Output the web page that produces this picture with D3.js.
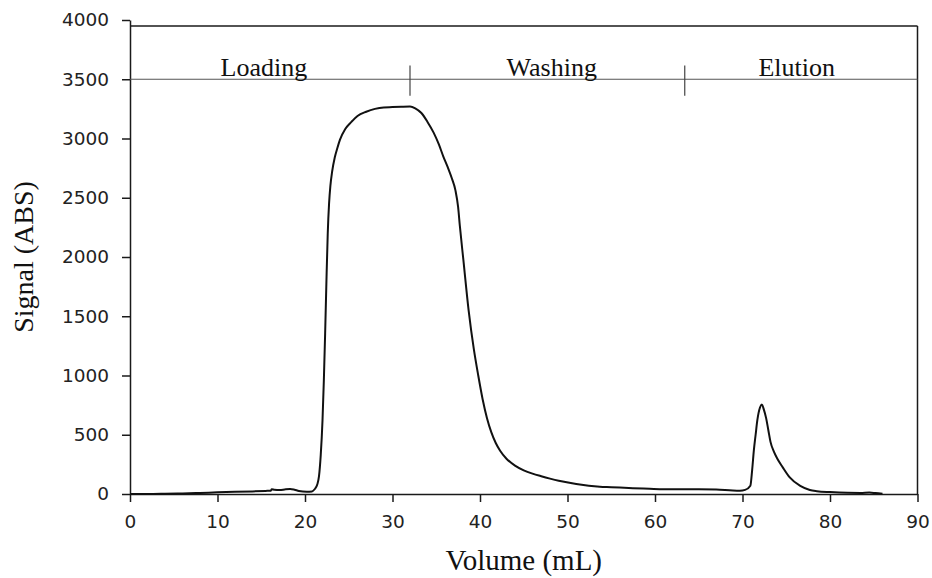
<!DOCTYPE html>
<html>
<head>
<meta charset="utf-8">
<script src="https://cdn.jsdelivr.net/npm/d3@7"></script>
<style>
  html, body { margin: 0; padding: 0; background: #fff; }
  svg { display: block; }
</style>
</head>
<body>
<svg id="chart"></svg>
<script>
// Chromatogram trace: volume (mL) and signal (ABS)
const volume = [0, 2, 4, 6, 8, 10, 12, 14, 15.5, 16.1, 16.2, 16.5, 17.1, 17.8, 18.3, 18.8, 19.3, 20.2, 20.8,
  21.1, 21.4, 21.6, 21.8, 22.0, 22.15, 22.3, 22.45, 22.6, 22.75, 22.9, 23.1, 23.4, 23.7, 24.0, 24.6, 25.3, 26,
  27, 28, 29, 30, 31, 32, 32.6, 33.3, 34, 34.7, 35.3, 35.8, 36.3, 36.8, 37.2, 37.5, 37.7, 38.1, 38.7, 39.3,
  39.8, 40.3, 40.8, 41.3, 41.8, 42.3, 43, 44, 45, 46, 47, 48, 49, 51, 53.7, 55, 57, 59.4, 62, 65, 67, 68.5, 69.7, 70.3,
  70.9, 71.1, 71.3, 71.5, 71.7, 72.0, 72.2, 72.45, 72.7, 72.95, 73.2, 73.6, 74.0, 74.6, 75.4, 76.6, 77.7, 78.5,
  80, 82, 83.5, 84.5, 85.2, 86];
const signal = [0, 0, 2, 5, 9, 14, 18, 22, 26, 28, 40, 36, 33, 40, 42, 36, 26, 20, 22,
  40, 80, 150, 330, 620, 950, 1350, 1800, 2200, 2450, 2600, 2720, 2840, 2920, 2990, 3080, 3140, 3190,
  3226, 3250, 3262, 3265, 3268, 3270, 3255, 3215, 3140, 3050, 2950, 2850, 2760, 2660, 2560, 2420, 2260, 1975, 1550, 1220,
  1000, 800, 640, 520, 430, 365, 300, 240, 200, 172, 150, 130, 112, 85, 62, 58, 50, 44, 40, 40, 37, 32, 28, 35,
  70, 200, 370, 500, 625, 730, 755, 710, 640, 540, 440, 355, 295, 225, 140, 68, 34, 24,
  16, 10, 9, 12, 8, 2];

// Process phases across the top
const phaseNames = ["Loading", "Washing", "Elution"];
const phaseLabelX = [15.3, 48.2, 76.2];
const phaseBounds = [32, 63.4];
const phaseLevel = 3500;

const xTicks = [0, 10, 20, 30, 40, 50, 60, 70, 80, 90];
const yTicks = [0, 500, 1000, 1500, 2000, 2500, 3000, 3500, 4000];

const width = 932;
const height = 578;
const margin = { top: 20, right: 14.5, bottom: 84, left: 130 };

const svg = d3.select("#chart")
    .attr("width", width)
    .attr("height", height);

const xScale = d3.scaleLinear().domain([0, 90]).range([margin.left, width - margin.right]);
const yScale = d3.scaleLinear().domain([0, 4000]).range([height - margin.bottom, margin.top]);

const ink = "#1a1a1a";
const serif = "'Liberation Serif', 'Times New Roman', serif";
const sans = "'DejaVu Sans', sans-serif";

// Frame (top and right)
svg.append("line")
    .attr("x1", xScale(0)).attr("x2", xScale(90))
    .attr("y1", yScale(3950)).attr("y2", yScale(3950))
    .attr("stroke", ink).attr("stroke-width", 1.5);
svg.append("line")
    .attr("x1", xScale(90)).attr("x2", xScale(90))
    .attr("y1", yScale(3950)).attr("y2", yScale(0))
    .attr("stroke", ink).attr("stroke-width", 1.5);

// Axes
const xAxis = svg.append("g")
    .attr("transform", `translate(0,${yScale(0)})`)
    .call(d3.axisBottom(xScale).tickValues(xTicks).tickFormat(d3.format("d"))
        .tickSize(8).tickPadding(13).tickSizeOuter(0));

const yAxis = svg.append("g")
    .attr("transform", `translate(${xScale(0)},0)`)
    .call(d3.axisLeft(yScale).tickValues(yTicks).tickFormat(d3.format("d"))
        .tickSize(8).tickPadding(13).tickSizeOuter(0));

[xAxis, yAxis].forEach(ax => {
    ax.select(".domain").attr("stroke", ink).attr("stroke-width", 1.5);
    ax.selectAll(".tick line").attr("stroke", ink).attr("stroke-width", 1.5);
    ax.selectAll(".tick text")
        .attr("fill", "#222")
        .style("font-family", sans)
        .style("font-size", "18.5px");
});

// Phase line and dividers
svg.append("line")
    .attr("x1", xScale(0)).attr("x2", xScale(90))
    .attr("y1", yScale(phaseLevel)).attr("y2", yScale(phaseLevel))
    .attr("stroke", "#555").attr("stroke-width", 1.2);

svg.selectAll(".phase-divider")
    .data(phaseBounds)
    .enter()
    .append("line")
    .attr("class", "phase-divider")
    .attr("x1", d => xScale(d)).attr("x2", d => xScale(d))
    .attr("y1", yScale(phaseLevel + 115)).attr("y2", yScale(phaseLevel - 140))
    .attr("stroke", "#444").attr("stroke-width", 1.2);

svg.selectAll(".phase-label")
    .data(phaseNames)
    .enter()
    .append("text")
    .attr("class", "phase-label")
    .attr("x", (d, i) => xScale(phaseLabelX[i]))
    .attr("y", yScale(phaseLevel + 25))
    .attr("text-anchor", "middle")
    .attr("fill", "#111")
    .style("font-family", serif)
    .style("font-size", "26px")
    .text(d => d);

// Signal trace
const points = volume.map((v, i) => [v, signal[i]]);
const line = d3.line()
    .x(d => xScale(d[0]))
    .y(d => yScale(d[1]))
    .curve(d3.curveMonotoneX);

svg.append("path")
    .datum(points)
    .attr("d", line)
    .attr("fill", "none")
    .attr("stroke", "#111")
    .attr("stroke-width", 2)
    .attr("stroke-linejoin", "round");

// Axis titles
svg.append("text")
    .attr("x", (xScale(0) + xScale(90)) / 2)
    .attr("y", 570)
    .attr("text-anchor", "middle")
    .attr("fill", "#111")
    .style("font-family", serif)
    .style("font-size", "29px")
    .text("Volume (mL)");

svg.append("text")
    .attr("transform", `translate(33,${(yScale(0) + yScale(4000)) / 2}) rotate(-90)`)
    .attr("text-anchor", "middle")
    .attr("fill", "#111")
    .style("font-family", serif)
    .style("font-size", "28px")
    .text("Signal (ABS)");
</script>
</body>
</html>
